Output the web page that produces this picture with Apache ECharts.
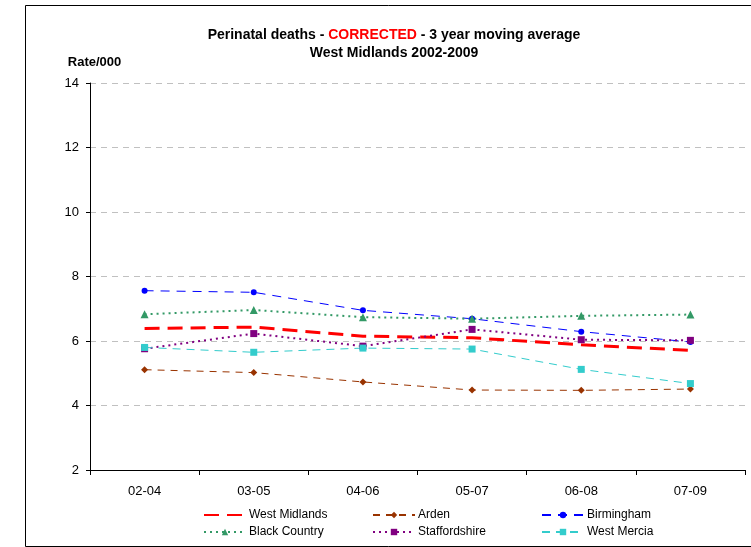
<!DOCTYPE html>
<html>
<head>
<meta charset="utf-8">
<script src="https://cdn.jsdelivr.net/npm/echarts@6/dist/echarts.min.js"></script>
<style>
html, body { margin: 0; padding: 0; background: #fff; }
#main { width: 751px; height: 547px; }
</style>
</head>
<body>
<div id="main"></div>
<script>
// periods (3 year moving windows)
var periods = ['02-04', '03-05', '04-06', '05-07', '06-08', '07-09'];
// rate per 000
var westMidlands = [6.39, 6.43, 6.15, 6.10, 5.88, 5.71];
var arden = [5.11, 5.02, 4.73, 4.48, 4.47, 4.51];
var birmingham = [7.56, 7.51, 6.95, 6.69, 6.29, 5.97];
var blackCountry = [6.83, 6.96, 6.74, 6.69, 6.78, 6.82];
var staffordshire = [5.76, 6.23, 5.84, 6.36, 6.04, 6.02];
var westMercia = [5.80, 5.65, 5.78, 5.75, 5.12, 4.68];

var myChart = echarts.init(document.getElementById('main'));

function mkLine(name, data, color, width, dash, symbol, size) {
	return {
		name : name,
		type : 'line',
		data : data,
		symbol : symbol,
		symbolSize : size,
		showSymbol : symbol !== 'none',
		itemStyle : { color : color },
		lineStyle : { color : color, width : width, type : dash },
		animation : false
	};
}

var font = 'Liberation Sans, Arial, sans-serif';
var legendBase = {
	orient : 'vertical',
	top : 504,
	itemWidth : 42,
	itemHeight : 8,
	itemGap : 5,
	textStyle : { fontFamily : font, fontSize : 12, color : '#000', padding : [0, 0, 0, -2] }
};

var option = {
	backgroundColor : '#fff',
	title : {
		text : '{a|Perinatal deaths - }{r|CORRECTED}{a| - 3 year moving average}\n{a|West Midlands 2002-2009}',
		left : 389,
		top : 21,
		textAlign : 'center',
		textStyle : {
			rich : {
				a : { fontFamily : font, fontSize : 14, fontWeight : 'bold', color : '#000', lineHeight : 18 },
				r : { fontFamily : font, fontSize : 14, fontWeight : 'bold', color : '#ff0000', lineHeight : 18 }
			}
		}
	},
	graphic : [ {
		type : 'rect',
		shape : { x : 25.5, y : 5.5, width : 760, height : 541 },
		style : { fill : null, stroke : '#000', lineWidth : 1 },
		silent : true
	} ],
	legend : [
		echarts.util.merge({ left : 198, data : [ { name : 'West Midlands', itemStyle : { opacity : 0 } }, 'Black Country' ] }, legendBase, true),
		echarts.util.merge({ left : 367, data : ['Arden', 'Staffordshire'] }, legendBase, true),
		echarts.util.merge({ left : 536, data : ['Birmingham', 'West Mercia'] }, legendBase, true)
	],
	grid : {
		left : 90,
		right : 6,
		top : 83,
		bottom : 77
	},
	xAxis : {
		type : 'category',
		data : periods,
		boundaryGap : true,
		axisLine : { lineStyle : { color : '#000', width : 1 } },
		axisTick : { show : true, length : 5, inside : false, lineStyle : { color : '#000' } },
		axisLabel : { fontFamily : font, fontSize : 13, color : '#000', margin : 15 }
	},
	yAxis : {
		type : 'value',
		min : 2,
		max : 14,
		interval : 2,
		name : 'Rate/000',
		nameLocation : 'end',
		nameGap : 14,
		nameTextStyle : { fontFamily : font, fontSize : 13, fontWeight : 'bold', color : '#000', align : 'center', padding : [0, 0, 0, 9] },
		axisLine : { show : true, lineStyle : { color : '#000', width : 1 } },
		axisTick : { show : true, length : 4, lineStyle : { color : '#000' } },
		axisLabel : { fontFamily : font, fontSize : 13, color : '#000', margin : 11 },
		splitLine : { show : true, lineStyle : { color : '#c0c0c0', type : [6, 5], width : 1 } }
	},
	series : [
		mkLine('West Midlands', westMidlands, '#ff0000', 3, [15, 8], 'none', 0),
		mkLine('Arden', arden, '#993300', 1, [7, 6], 'diamond', 7),
		mkLine('Birmingham', birmingham, '#0000ff', 1, [9, 7], 'circle', 6),
		mkLine('Black Country', blackCountry, '#339966', 2, [2, 4], 'triangle', 8),
		mkLine('Staffordshire', staffordshire, '#800080', 2, [2, 4], 'rect', 7),
		mkLine('West Mercia', westMercia, '#33cccc', 1, [8, 6], 'rect', 7)
	]
};

myChart.setOption(option);
</script>
</body>
</html>
